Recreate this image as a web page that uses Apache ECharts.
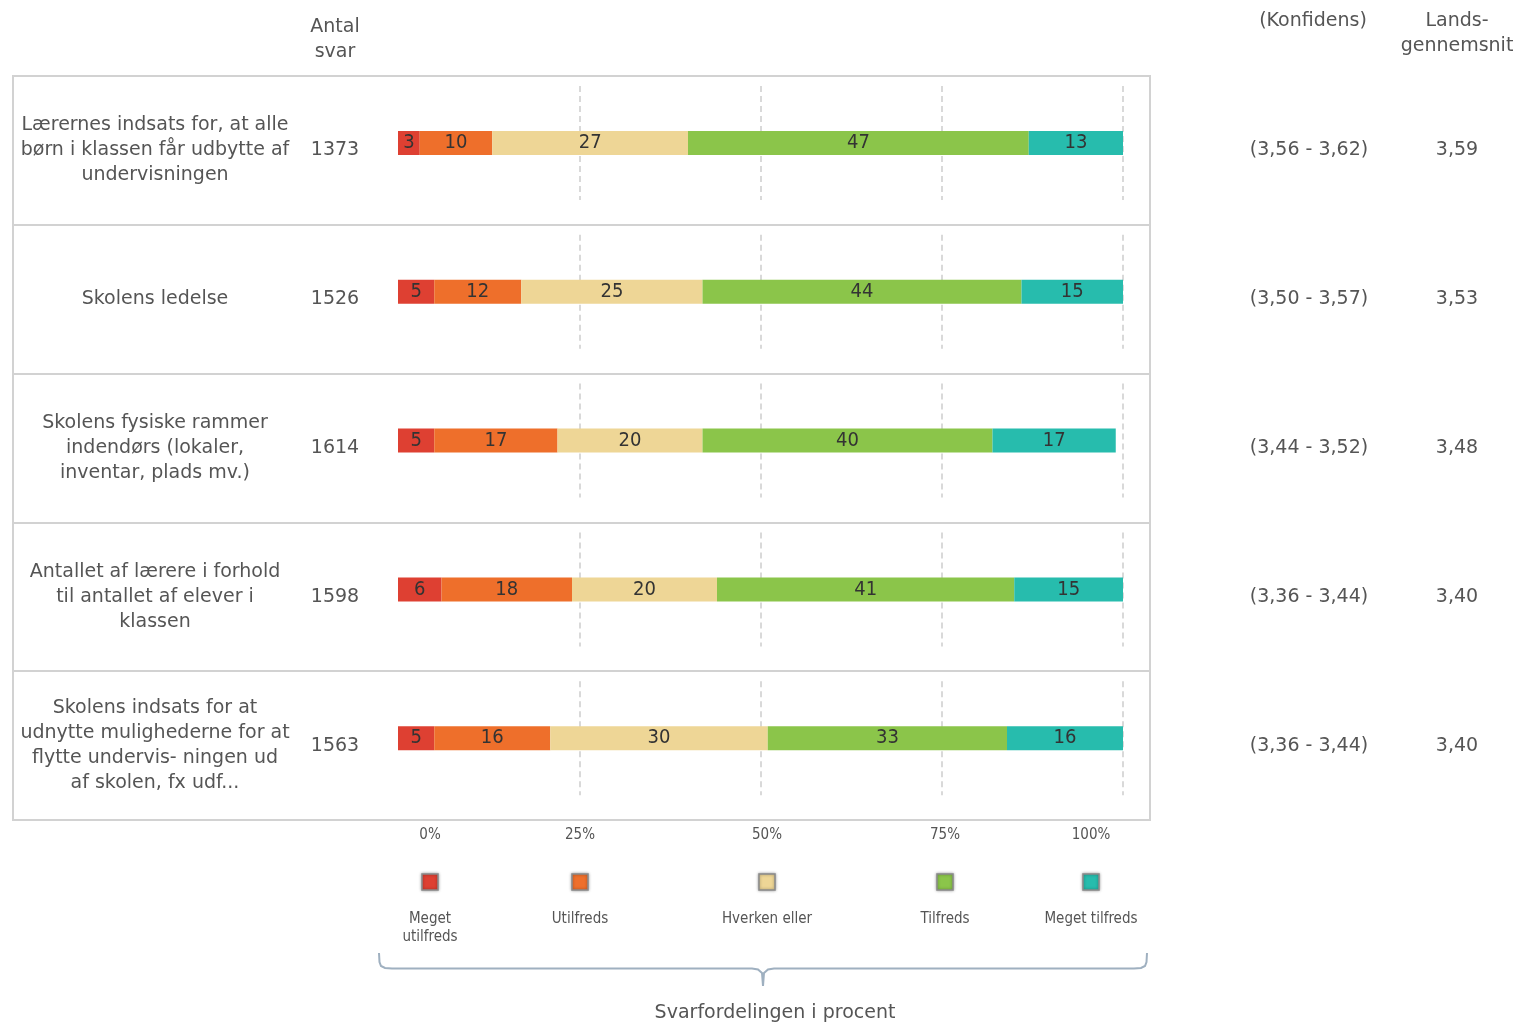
<!DOCTYPE html>
<html>
<head>
<meta charset="utf-8">
<script src="https://cdn.jsdelivr.net/npm/echarts@6/dist/echarts.min.js"></script>
<style>html,body{margin:0;padding:0;background:#fff}#c{width:1516px;height:1026px}</style>
</head>
<body>
<div id="c"></div>
<script>
// ---------- data ----------
const categories = [
  'Lærernes indsats for, at alle\nbørn i klassen får udbytte af\nundervisningen',
  'Skolens ledelse',
  'Skolens fysiske rammer\nindendørs (lokaler,\ninventar, plads mv.)',
  'Antallet af lærere i forhold\ntil antallet af elever i\nklassen',
  'Skolens indsats for at\nudnytte mulighederne for at\nflytte undervis- ningen ud\naf skolen, fx udf...'
];
const antalSvar = [1373, 1526, 1614, 1598, 1563];
const konfidens = ['(3,56 - 3,62)', '(3,50 - 3,57)', '(3,44 - 3,52)', '(3,36 - 3,44)', '(3,36 - 3,44)'];
const landsgennemsnit = ['3,59', '3,53', '3,48', '3,40', '3,40'];

const levels = ['Meget utilfreds', 'Utilfreds', 'Hverken eller', 'Tilfreds', 'Meget tilfreds'];
const legendLabels = ['Meget\nutilfreds', 'Utilfreds', 'Hverken eller', 'Tilfreds', 'Meget tilfreds'];
const megetUtilfreds = [3, 5, 5, 6, 5];
const utilfreds      = [10, 12, 17, 18, 16];
const hverkenEller   = [27, 25, 20, 20, 30];
const tilfreds       = [47, 44, 40, 41, 33];
const megetTilfreds  = [13, 15, 17, 15, 16];
const levelValues = [megetUtilfreds, utilfreds, hverkenEller, tilfreds, megetTilfreds];

const tickLabels = ['0%', '25%', '50%', '75%', '100%'];
const headers = { antal: 'Antal\nsvar', konf: '(Konfidens)', lands: 'Lands-\ngennemsnit' };
const axisTitle = 'Svarfordelingen i procent';

// ---------- styling / layout ----------
const colors = ['#de4032', '#ee6f2b', '#eed696', '#8bc54a', '#27bcad'];
const textColor = '#555';
const mainFont = 'DejaVu Sans';
const narrowFont = '"Liberation Sans Narrow", "DejaVu Sans Condensed", "Liberation Sans", sans-serif';
const frameTop = 76, frameH = 744, rowH = frameH / categories.length;
const barLeft = 398, barWidthPx = 725;
const legendX = [430, 580, 767, 945, 1091];

const grids = [{ left: 13, top: frameTop, width: 1137, height: frameH, show: true, borderColor: '#d2d2d2', borderWidth: 2 }];
const xAxes = [{ type: 'value', gridIndex: 0, show: false, min: 0, max: 1 }];
const labelStyle = { color: textColor, fontFamily: mainFont, fontSize: 19, lineHeight: 25, align: 'center', margin: 0, padding: [4, 0, 0, 0] };
const yAxes = [
  { type: 'category', gridIndex: 0, inverse: true, data: categories, position: 'left', offset: -142,
    axisLine: { show: false }, axisTick: { show: false },
    splitLine: { show: true, interval: 0, lineStyle: { color: '#d2d2d2', width: 2 } },
    axisLabel: Object.assign({ interval: 0 }, labelStyle) },
  { type: 'category', gridIndex: 0, inverse: true, data: antalSvar.map(String), position: 'left', offset: -322,
    axisLine: { show: false }, axisTick: { show: false }, splitLine: { show: false },
    axisLabel: Object.assign({ interval: 0 }, labelStyle) },
  { type: 'category', gridIndex: 0, inverse: true, data: konfidens, position: 'right', offset: 159,
    axisLine: { show: false }, axisTick: { show: false }, splitLine: { show: false },
    axisLabel: Object.assign({ interval: 0 }, labelStyle) },
  { type: 'category', gridIndex: 0, inverse: true, data: landsgennemsnit, position: 'right', offset: 307,
    axisLine: { show: false }, axisTick: { show: false }, splitLine: { show: false },
    axisLabel: Object.assign({ interval: 0 }, labelStyle) }
];
const series = [];
categories.forEach((cat, i) => {
  const gi = i + 1;
  grids.push({ left: barLeft, width: barWidthPx, top: frameTop + i * rowH + 10, height: 114 });
  xAxes.push({ type: 'value', gridIndex: gi, min: 0, max: 100, interval: 25,
    axisLabel: { show: false }, axisLine: { show: false }, axisTick: { show: false },
    splitLine: { show: true, showMinLine: false, lineStyle: { color: '#d9d9d9', width: 2, type: [6, 4] } } });
  yAxes.push({ type: 'category', gridIndex: gi, data: [cat], show: false });
  levels.forEach((lv, k) => {
    series.push({
      type: 'bar', name: lv, stack: 'row' + i, xAxisIndex: gi, yAxisIndex: 4 + i,
      barWidth: 24, data: [levelValues[k][i]],
      itemStyle: { color: colors[k] },
      label: { show: true, position: 'inside', formatter: '{c}', color: '#333', fontFamily: narrowFont, fontSize: 20 },
      silent: true, animation: false
    });
  });
});

// graphic: headers, ticks, legend, brace, title
const graphic = [];
graphic.push({ type: 'text', x: 335, y: 15, style: { text: headers.antal, fill: textColor, font: '19px ' + mainFont, textAlign: 'center', textVerticalAlign: 'top', lineHeight: 25 } });
graphic.push({ type: 'text', x: 1313, y: 9, style: { text: headers.konf, fill: textColor, font: '19px ' + mainFont, textAlign: 'center', textVerticalAlign: 'top', lineHeight: 25 } });
graphic.push({ type: 'text', x: 1457, y: 9, style: { text: headers.lands, fill: textColor, font: '19px ' + mainFont, textAlign: 'center', textVerticalAlign: 'top', lineHeight: 25 } });
tickLabels.forEach((t, k) => {
  graphic.push({ type: 'text', x: legendX[k], y: 835, style: { text: t, fill: textColor, font: '15px ' + narrowFont, textAlign: 'center', textVerticalAlign: 'middle' } });
});
legendLabels.forEach((t, k) => {
  graphic.push({ type: 'rect', x: legendX[k] - 8, y: 874, shape: { width: 16, height: 16 },
    style: { fill: colors[k], stroke: '#8a8a8a', lineWidth: 1.5, shadowBlur: 3, shadowColor: 'rgba(0,0,0,0.35)' } });
  graphic.push({ type: 'text', x: legendX[k], y: 910, style: { text: t, fill: textColor, font: '15px ' + narrowFont, textAlign: 'center', textVerticalAlign: 'top', lineHeight: 18 } });
});
const braceStyle = { fill: null, stroke: '#9fb0c0', lineWidth: 2 };
graphic.push({ type: 'polyline', shape: { points: [[379, 953], [379.5, 962], [381, 966], [385, 968], [392, 968.5], [752, 968.5], [758, 969.5], [762, 973], [763, 986]] }, style: braceStyle });
graphic.push({ type: 'polyline', shape: { points: [[1147, 953], [1146.5, 962], [1145, 966], [1141, 968], [1134, 968.5], [774, 968.5], [768, 969.5], [764, 973], [763, 986]] }, style: braceStyle });
graphic.push({ type: 'text', x: 775, y: 1013, style: { text: axisTitle, fill: textColor, font: '19px ' + mainFont, textAlign: 'center', textVerticalAlign: 'middle' } });

const chart = echarts.init(document.getElementById('c'), null, { renderer: 'canvas' });
chart.setOption({
  animation: false,
  backgroundColor: '#fff',
  grid: grids, xAxis: xAxes, yAxis: yAxes, series: series, graphic: graphic
});
</script>
</body>
</html>
